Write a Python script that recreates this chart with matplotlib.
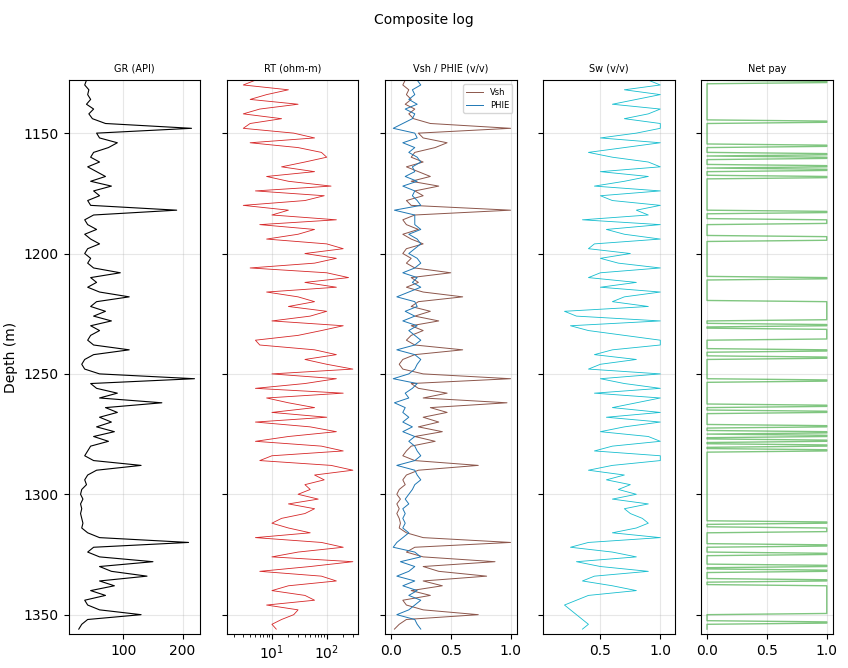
import matplotlib
matplotlib.use("Agg")
import matplotlib.pyplot as plt
import numpy as np

# Curves sampled every 2 m from 1128 m to 1356 m
depth = np.arange(1128, 1357, 2)

gr = [38, 35, 42, 40, 45, 38, 50, 42, 48, 70,
      215, 55, 60, 90, 75, 50, 45, 60, 40, 55,
      70, 45, 80, 50, 60, 40, 45, 190, 50, 35,
      40, 55, 35, 45, 60, 40, 35, 45, 40, 50,
      95, 45, 55, 40, 60, 110, 55, 45, 70, 50,
      80, 45, 60, 45, 40, 50, 110, 50, 35, 30,
      35, 60, 220, 45, 55, 90, 60, 165, 70, 90,
      60, 80, 55, 85, 50, 75, 45, 40, 35, 50,
      130, 55, 40, 35, 38, 30, 28, 32, 28, 30,
      28, 30, 32, 30, 40, 60, 210, 50, 40, 60,
      150, 60, 80, 140, 60, 85, 45, 70, 35, 40,
      60, 130, 40, 30, 25]

rt = [5, 3, 20, 8, 4, 30, 6, 3, 15, 4,
      3, 25, 60, 4, 30, 80, 100, 40, 15, 60,
      8, 20, 120, 5, 90, 40, 3, 20, 10, 150,
      6, 60, 30, 8, 100, 200, 40, 150, 60, 4,
      100, 250, 40, 150, 8, 30, 60, 20, 100, 50,
      10, 200, 80, 30, 5, 6, 60, 150, 40, 100,
      300, 10, 150, 40, 5, 200, 8, 20, 60, 10,
      100, 5, 50, 150, 20, 5, 80, 200, 10, 6,
      120, 300, 60, 90, 40, 50, 30, 70, 20, 60,
      40, 15, 10, 20, 50, 5, 80, 200, 30, 10,
      300, 50, 6, 80, 150, 20, 10, 40, 60, 8,
      30, 25, 15, 10, 12]

vsh = [0.12, 0.10, 0.15, 0.13, 0.17, 0.12, 0.20, 0.15, 0.19, 0.33,
       1.0, 0.23, 0.27, 0.47, 0.37, 0.20, 0.17, 0.27, 0.13, 0.23,
       0.33, 0.17, 0.40, 0.20, 0.27, 0.13, 0.17, 1.0, 0.20, 0.10,
       0.13, 0.23, 0.10, 0.17, 0.27, 0.13, 0.10, 0.17, 0.13, 0.20,
       0.50, 0.17, 0.23, 0.13, 0.27, 0.60, 0.23, 0.17, 0.33, 0.20,
       0.40, 0.17, 0.27, 0.17, 0.13, 0.20, 0.60, 0.20, 0.10, 0.07,
       0.10, 0.27, 1.0, 0.17, 0.23, 0.47, 0.27, 0.97, 0.33, 0.47,
       0.27, 0.40, 0.23, 0.43, 0.20, 0.37, 0.17, 0.13, 0.10, 0.20,
       0.73, 0.23, 0.13, 0.10, 0.12, 0.07, 0.05, 0.08, 0.05, 0.07,
       0.05, 0.07, 0.08, 0.07, 0.13, 0.27, 1.0, 0.20, 0.13, 0.27,
       0.87, 0.27, 0.40, 0.80, 0.27, 0.43, 0.17, 0.33, 0.10, 0.13,
       0.27, 0.73, 0.13, 0.07, 0.03]

phie = [0.22, 0.25, 0.18, 0.20, 0.15, 0.22, 0.12, 0.20, 0.18, 0.10,
        0.02, 0.20, 0.22, 0.10, 0.20, 0.15, 0.22, 0.25, 0.18, 0.20,
        0.12, 0.22, 0.10, 0.20, 0.18, 0.22, 0.25, 0.03, 0.20, 0.20,
        0.20, 0.25, 0.15, 0.22, 0.25, 0.20, 0.15, 0.22, 0.25, 0.20,
        0.10, 0.22, 0.18, 0.25, 0.15, 0.05, 0.20, 0.22, 0.12, 0.20,
        0.10, 0.22, 0.15, 0.20, 0.25, 0.20, 0.05, 0.20, 0.25, 0.22,
        0.20, 0.15, 0.02, 0.22, 0.18, 0.12, 0.15, 0.03, 0.12, 0.10,
        0.15, 0.10, 0.18, 0.10, 0.20, 0.15, 0.20, 0.22, 0.25, 0.20,
        0.05, 0.20, 0.22, 0.25, 0.20, 0.18, 0.15, 0.12, 0.15, 0.10,
        0.12, 0.10, 0.12, 0.10, 0.15, 0.10, 0.05, 0.02, 0.20, 0.25,
        0.08, 0.20, 0.15, 0.05, 0.20, 0.10, 0.22, 0.15, 0.25, 0.20,
        0.15, 0.05, 0.20, 0.22, 0.25]

sw = [0.9, 1.0, 0.7, 1.0, 0.8, 0.6, 1.0, 0.9, 0.7, 1.0,
      1.0, 0.8, 0.5, 1.0, 0.7, 0.4, 0.6, 0.9, 1.0, 0.5,
      0.9, 0.7, 0.45, 1.0, 0.5, 0.6, 1.0, 0.8, 0.9, 0.35,
      1.0, 0.55, 0.7, 1.0, 0.45, 0.4, 0.75, 0.5, 0.65, 1.0,
      0.5, 0.4, 0.8, 0.5, 1.0, 0.7, 0.6, 0.9, 0.2, 0.3,
      1.0, 0.25, 0.4, 0.7, 1.0, 1.0, 0.6, 0.45, 0.8, 0.5,
      0.4, 1.0, 0.5, 0.7, 1.0, 0.45, 1.0, 0.8, 0.6, 1.0,
      0.55, 1.0, 0.7, 0.5, 0.9, 1.0, 0.6, 0.45, 1.0, 1.0,
      0.6, 0.4, 0.7, 0.55, 0.75, 0.65, 0.8, 0.6, 0.9, 0.7,
      0.75, 0.85, 0.9, 0.8, 0.6, 1.0, 0.4, 0.25, 0.6, 0.8,
      0.3, 0.5, 0.9, 0.45, 0.35, 0.6, 0.8, 0.4, 0.3, 0.2,
      0.25, 0.3, 0.35, 0.4, 0.35]

# Net pay intervals (top, base) in m
pay_top = [1128.5, 1145, 1155, 1158.5, 1160, 1163.5, 1165, 1168, 1182.5, 1186, 1187,
           1193, 1194, 1210, 1220, 1229.5, 1231.5, 1240, 1243, 1252.5, 1263, 1265.5,
           1271.5, 1274, 1275.5, 1277.5, 1279.5, 1281.5, 1311.5, 1314, 1321, 1324.5,
           1329.5, 1331.5, 1335.5, 1338, 1353]
pay_base = [1129, 1145.5, 1155.5, 1159, 1160.5, 1164, 1165.5, 1168.5, 1183, 1186.5, 1187.5,
            1193.5, 1194.5, 1210.5, 1227.5, 1230, 1235.5, 1240.5, 1243.5, 1253, 1263.5, 1266,
            1272, 1274.5, 1276, 1278, 1280, 1282, 1312, 1315.5, 1321.5, 1325,
            1330, 1332, 1336, 1349.5, 1353.5]

pay_depth = np.arange(1128, 1356.01, 0.5)
pay = np.zeros_like(pay_depth)
for t, b in zip(pay_top, pay_base):
    pay[(pay_depth >= t) & (pay_depth <= b)] = 1.0

fig, axes = plt.subplots(1, 5, figsize=(8.48, 6.68), dpi=100, sharey=True)
fig.subplots_adjust(left=0.081, right=0.982, top=0.88, bottom=0.051, wspace=0.2)

ax = axes[0]
ax.plot(gr, depth, color="black", lw=0.8)
ax.set_xlim(8, 230)
ax.set_title("GR (API)", fontsize=7)
ax.set_ylabel("Depth (m)")

ax = axes[1]
ax.semilogx(rt, depth, color="tab:red", lw=0.6)
ax.set_xlim(1.5, 380)
ax.set_title("RT (ohm-m)", fontsize=7)

ax = axes[2]
ax.plot(vsh, depth, color="tab:brown", lw=0.7, label="Vsh")
ax.plot(phie, depth, color="tab:blue", lw=0.7, label="PHIE")
ax.set_xlim(-0.05, 1.05)
ax.set_title("Vsh / PHIE (v/v)", fontsize=7)
ax.legend(loc="upper right", fontsize=6)

ax = axes[3]
ax.plot(sw, depth, color="tab:cyan", lw=0.6)
ax.set_xlim(0.02, 1.12)
ax.set_title("Sw (v/v)", fontsize=7)

ax = axes[4]
ax.plot(pay, pay_depth, color="tab:green", lw=1.0, alpha=0.6)
ax.set_xlim(-0.05, 1.05)
ax.set_title("Net pay", fontsize=7)

for ax in axes:
    ax.grid(True, alpha=0.3)
axes[0].set_ylim(1358, 1128)

fig.suptitle("Composite log", fontsize=10)
fig.savefig("out.png", dpi=100)
